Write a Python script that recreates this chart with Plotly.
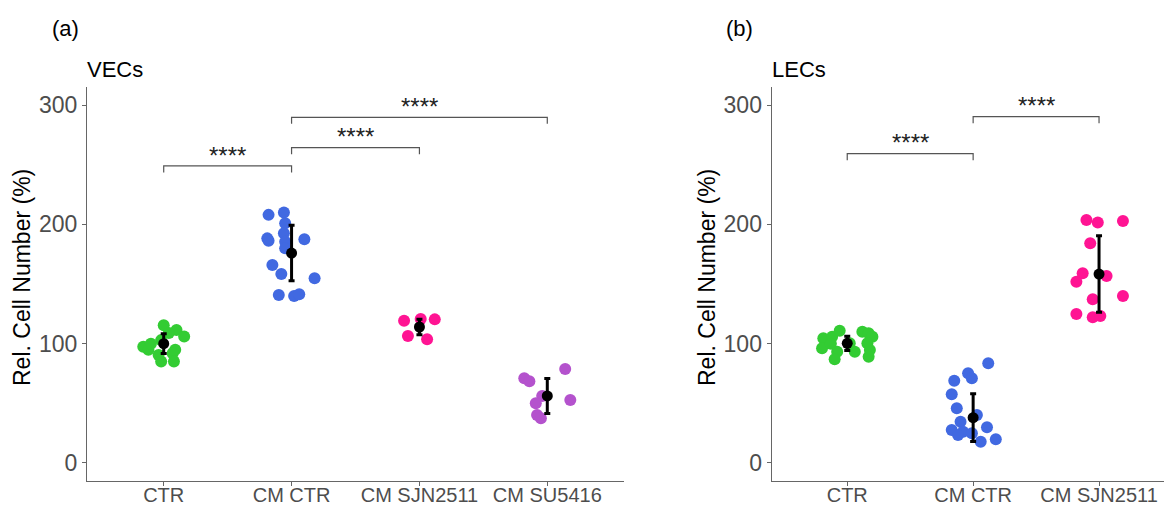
import plotly.graph_objects as go

# ---------------- data ----------------
cats_a = ["CTR", "CM CTR", "CM SJN2511", "CM SU5416"]
cats_b = ["CTR", "CM CTR", "CM SJN2511"]

col_ctr = "#33CC33"
col_cm = "#4169E1"
col_sjn = "#FF1493"
col_su = "#B452CD"

# Panel (a) VECs: values and horizontal jitter (category units)
a_ctr_vals = [115.5, 111.5, 106, 103, 97.5, 95, 95, 92, 90.5, 85, 85, 109, 100]
a_ctr_jit = [0.0, 0.10, 0.16, -0.02, -0.16, -0.12, 0.09, 0.07, -0.04, -0.02, 0.08, 0.04, -0.10]
a_cm_vals = [208, 210, 201, 192.5, 188.3, 186.3, 187.5, 185.5, 180, 166, 158.4, 154.8, 140.8, 140, 141.4]
a_cm_jit = [-0.18, -0.06, -0.05, -0.06, -0.19, -0.18, 0.10, -0.05, -0.05, -0.15, -0.08, 0.18, -0.10, 0.02, 0.06]
a_sjn_vals = [119.3, 120.7, 120.4, 106.5, 103.7]
a_sjn_jit = [-0.12, 0.01, 0.12, -0.09, 0.06]
a_su_vals = [71, 68.5, 78.8, 56.2, 50, 52.8, 40.2, 37.5]
a_su_jit = [-0.18, -0.14, 0.14, -0.04, -0.09, 0.18, -0.08, -0.05]
a_mean = [100, 176, 114, 56.2]
a_err = [8.3, 23.3, 6.5, 14.7]

# Panel (b) LECs
b_ctr_vals = [104.5, 105.9, 110.9, 96.1, 93.3, 86.9, 93.3, 110.1, 108.7, 105.9, 100.3, 94.7, 89.1, 100.3, 100]
b_ctr_jit = [-0.19, -0.12, -0.06, -0.20, -0.08, -0.10, 0.06, 0.12, 0.17, 0.20, 0.16, 0.18, 0.17, 0.02, -0.13]
b_cm_vals = [83.6, 75.2, 71, 69, 57.6, 45.9, 40.2, 34.6, 29.9, 27.7, 26.2, 23.5, 24.9, 17.9, 19.9]
b_cm_jit = [0.12, -0.04, -0.01, -0.15, -0.17, -0.13, 0.03, -0.10, 0.11, -0.17, -0.08, -0.12, -0.01, 0.06, 0.18]
b_sjn_vals = [203.7, 201.7, 202.8, 184.2, 159, 152, 156.7, 137.2, 140, 124.9, 122.1, 123.2]
b_sjn_jit = [-0.10, -0.01, 0.19, -0.07, -0.13, -0.18, 0.06, -0.05, 0.19, -0.18, -0.05, 0.01]
b_mean = [100.3, 38, 158.4]
b_err = [6, 20, 32]

# significance brackets: (from index, to index, level, label)
brackets_a = [(0, 1, 249, "****"), (1, 2, 264.3, "****"), (1, 3, 289.8, "****")]
brackets_b = [(0, 1, 259.3, "****"), (1, 2, 290.3, "****")]
tick_drop = 5.5
label_gap = 9

# ---------------- figure ----------------
fig = go.Figure()

def add_group(vals, jit, idx, color, xa, ya):
    fig.add_trace(go.Scatter(
        x=[idx + j for j in jit], y=vals, mode="markers",
        marker=dict(color=color, size=12, line=dict(width=0)),
        xaxis=xa, yaxis=ya, showlegend=False, hoverinfo="y"))

add_group(a_ctr_vals, a_ctr_jit, 0, col_ctr, "x", "y")
add_group(a_cm_vals, a_cm_jit, 1, col_cm, "x", "y")
add_group(a_sjn_vals, a_sjn_jit, 2, col_sjn, "x", "y")
add_group(a_su_vals, a_su_jit, 3, col_su, "x", "y")
add_group(b_ctr_vals, b_ctr_jit, 0, col_ctr, "x2", "y2")
add_group(b_cm_vals, b_cm_jit, 1, col_cm, "x2", "y2")
add_group(b_sjn_vals, b_sjn_jit, 2, col_sjn, "x2", "y2")

for means, errs, xa, ya in [(a_mean, a_err, "x", "y"), (b_mean, b_err, "x2", "y2")]:
    fig.add_trace(go.Scatter(
        x=list(range(len(means))), y=means, mode="markers",
        marker=dict(color="black", size=11),
        error_y=dict(type="data", array=errs, color="black", thickness=3, width=3),
        xaxis=xa, yaxis=ya, showlegend=False))

def add_brackets(brs, xref, yref):
    for (i0, i1, lvl, lab) in brs:
        fig.add_shape(type="path",
                      path=f"M {i0},{lvl - tick_drop} L {i0},{lvl} L {i1},{lvl} L {i1},{lvl - tick_drop}",
                      xref=xref, yref=yref, line=dict(color="#555555", width=1.2))
        fig.add_annotation(x=(i0 + i1) / 2, y=lvl + label_gap, xref=xref, yref=yref,
                           text=lab, showarrow=False, yanchor="middle",
                           font=dict(size=24, color="#222222", family="Liberation Sans"))

add_brackets(brackets_a, "x", "y")
add_brackets(brackets_b, "x2", "y2")

W, H = 1164, 507
axis_common = dict(showline=True, linecolor="#666666", linewidth=1.3, ticks="outside",
                   ticklen=4, tickcolor="#666666", showgrid=False, zeroline=False,
                   tickfont=dict(family="Liberation Sans", color="#4D4D4D"))

yrange = [-15.1, 315.2]
ydom = [1 - 481 / H, 1 - 87 / H]

fig.update_layout(
    width=W, height=H, margin=dict(l=0, r=0, t=0, b=0, autoexpand=False),
    plot_bgcolor="white", paper_bgcolor="white",
    xaxis=dict(domain=[87 / W, 624 / W], range=[-0.6, 3.6], tickvals=list(range(4)),
               ticktext=cats_a, anchor="y", **axis_common),
    yaxis=dict(domain=ydom, range=yrange, tickvals=[0, 100, 200, 300], anchor="x", **axis_common),
    xaxis2=dict(domain=[771.7 / W, 1.0], range=[-0.6, 2.516], tickvals=list(range(3)),
                ticktext=cats_b, anchor="y2", **axis_common),
    yaxis2=dict(domain=ydom, range=yrange, tickvals=[0, 100, 200, 300], anchor="x2", **axis_common),
)
fig.update_xaxes(tickfont_size=20, ticklabelstandoff=-8)
fig.update_yaxes(tickfont_size=23)

def txt(x, y, s, size, xanchor="left", angle=0):
    fig.add_annotation(x=x / W, y=1 - y / H, xref="paper", yref="paper", text=s,
                       showarrow=False, xanchor=xanchor, yanchor="middle", textangle=angle,
                       font=dict(size=size, color="black", family="Liberation Sans"))

txt(50, 29, "(a)", 22)
txt(85, 69, "VECs", 22)
txt(724, 29, "(b)", 22)
txt(770, 69, "LECs", 22)
txt(22, 278, "Rel. Cell Number (%)", 23, xanchor="center", angle=-90)
txt(707, 278, "Rel. Cell Number (%)", 23, xanchor="center", angle=-90)

fig.write_html("out.html", config={"displayModeBar": False},
               post_script="document.body.style.margin='0px';document.body.style.overflow='hidden';")
